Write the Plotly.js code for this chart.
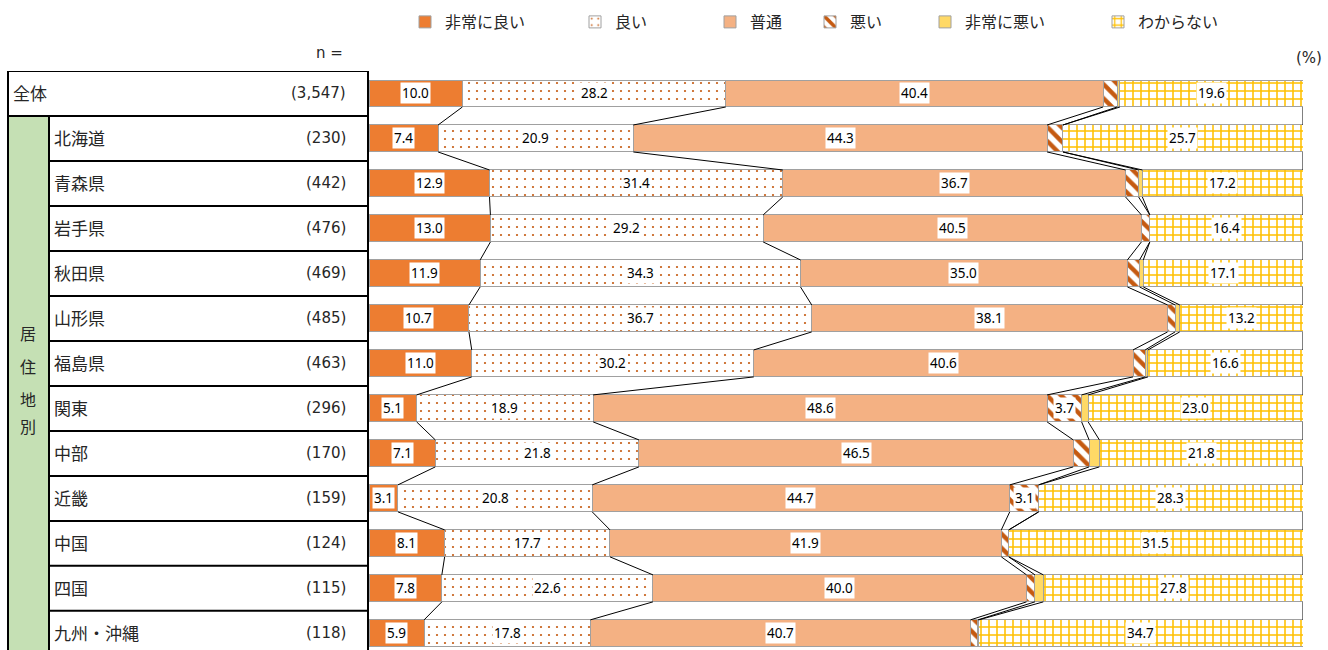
<!DOCTYPE html>
<html>
<head>
<meta charset="utf-8">
<script src="https://cdn.plot.ly/plotly-3.0.1.min.js"></script>
<style>
  html, body { margin: 0; padding: 0; background: #fff; }
  #chart { width: 1328px; height: 650px; }
</style>
</head>
<body>
<div id="chart"></div>
<script>
    // rows, top to bottom
    var rowNames = ['全体', '北海道', '青森県', '岩手県', '秋田県', '山形県', '福島県',
        '関東', '中部', '近畿', '中国', '四国', '九州・沖縄'];
    var rowCounts = ['(3,547)', '(230)', '(442)', '(476)', '(469)', '(485)', '(463)',
        '(296)', '(170)', '(159)', '(124)', '(115)', '(118)'];
    var groupLabel = ['居', '住', '地', '別'];

    var seriesNames = ['非常に良い', '良い', '普通', '悪い', '非常に悪い', 'わからない'];

    // % values per series
    var veryGood = [10.0, 7.4, 12.9, 13.0, 11.9, 10.7, 11.0, 5.1, 7.1, 3.1, 8.1, 7.8, 5.9];
    var good     = [28.2, 20.9, 31.4, 29.2, 34.3, 36.7, 30.2, 18.9, 21.8, 20.8, 17.7, 22.6, 17.8];
    var normal   = [40.4, 44.3, 36.7, 40.5, 35.0, 38.1, 40.6, 48.6, 46.5, 44.7, 41.9, 40.0, 40.7];
    var bad      = [1.5, 1.7, 1.4, 0.9, 1.3, 0.8, 1.3, 3.7, 1.7, 3.1, 0.8, 0.9, 0.8];
    var veryBad  = [0.3, 0.0, 0.4, 0.0, 0.4, 0.5, 0.3, 0.7, 1.1, 0.0, 0.0, 0.9, 0.1];
    var unknown  = [19.6, 25.7, 17.2, 16.4, 17.1, 13.2, 16.6, 23.0, 21.8, 28.3, 31.5, 27.8, 34.7];

    var series = [veryGood, good, normal, bad, veryBad, unknown];

    var styles = [
        {color: '#ED7D31'},
        {color: '#FFFFFF', pattern: {shape: '.', fgcolor: '#C55A11', bgcolor: '#FFFFFF', size: 8, solidity: 0.06}},
        {color: '#F4B183'},
        {color: '#FFFFFF', pattern: {shape: '\\', fgcolor: '#C55A11', bgcolor: '#FFFFFF', size: 10, solidity: 0.45}},
        {color: '#FFD966'},
        {color: '#FFFFFF', pattern: {shape: '+', fgcolor: '#FFC000', bgcolor: '#FFFFFF', size: 8, solidity: 0.35}}
    ];

    // legend swatch centres (px)
    var legendPx = [426, 596, 731, 831, 946, 1119];

    var PLOT_L = 369, PLOT_W = 934, PLOT_T = 71, PLOT_H = 579;
    var BAR_W = 0.6;
    var TXT = '#262626';

    function px2x(px) { return (px - PLOT_L) / PLOT_W; }
    function px2y(px) { return 1 - (px - PLOT_T) / PLOT_H; }

    var rowIdx = rowNames.map(function (d, i) { return i; });

    // cumulative starts
    var starts = series.map(function () { return []; });
    rowIdx.forEach(function (i) {
        var acc = 0;
        series.forEach(function (s, j) {
            starts[j][i] = acc;
            acc += s[i];
        });
    });

    var data = [];

    // series lines between neighbouring bars
    var lx = [], ly = [];
    for (var i = 0; i < rowIdx.length - 1; i++) {
        for (var j = 0; j < series.length; j++) {
            lx.push(starts[j][i] + series[j][i], starts[j][i + 1] + series[j][i + 1], null);
            ly.push(i + BAR_W / 2, i + 1 - BAR_W / 2, null);
        }
    }
    data.push({
        type: 'scatter', mode: 'lines', x: lx, y: ly,
        line: {color: '#000000', width: 1},
        hoverinfo: 'skip', showlegend: false
    });

    series.forEach(function (s, j) {
        var marker = {color: styles[j].color, line: {color: '#A0A0A0', width: 1}};
        if (styles[j].pattern) marker.pattern = styles[j].pattern;
        data.push({
            type: 'bar', orientation: 'h',
            name: seriesNames[j],
            x: s, y: rowIdx, width: BAR_W,
            marker: marker,
            legend: j === 0 ? 'legend' : 'legend' + (j + 1),
            hovertemplate: '%{x:.1f}<extra>' + seriesNames[j] + '</extra>'
        });
    });

    var annotations = [];

    // value labels
    series.forEach(function (s, j) {
        rowIdx.forEach(function (i) {
            if (s[i] < 3) return;
            annotations.push({
                xref: 'x', yref: 'y', x: starts[j][i] + s[i] / 2, y: i,
                xanchor: 'center', yanchor: 'middle',
                text: s[i].toFixed(1), showarrow: false,
                bgcolor: '#FFFFFF', borderpad: 1,
                font: {family: 'Noto Sans, sans-serif', size: 13.5, color: '#000'}
            });
        });
    });

    // table text
    rowIdx.forEach(function (i) {
        annotations.push({
            xref: 'paper', yref: 'y', x: px2x(i === 0 ? 11 : 52), y: i, yshift: 1,
            xanchor: 'left', yanchor: 'middle', text: rowNames[i], showarrow: false,
            font: {family: 'Noto Sans CJK JP', size: 17, color: TXT}
        });
        annotations.push({
            xref: 'paper', yref: 'y', x: px2x(348), y: i,
            xanchor: 'right', yanchor: 'middle', text: rowCounts[i], showarrow: false,
            font: {family: 'DejaVu Sans', size: 15, color: TXT}
        });
    });

    var groupPx = [333, 366, 399, 426];
    groupLabel.forEach(function (ch, k) {
        annotations.push({
            xref: 'paper', yref: 'paper', x: px2x(28), y: px2y(groupPx[k]),
            xanchor: 'center', yanchor: 'middle',
            text: ch, showarrow: false,
            font: {family: 'Noto Sans CJK JP', size: 16, color: TXT}
        });
    });

    annotations.push({
        xref: 'paper', yref: 'paper', x: px2x(329), y: px2y(53), xanchor: 'center', yanchor: 'middle',
        text: 'n =', showarrow: false,
        font: {family: 'DejaVu Sans', size: 15, color: TXT}
    });
    annotations.push({
        xref: 'paper', yref: 'paper', x: px2x(1309), y: px2y(58), xanchor: 'center', yanchor: 'middle',
        text: '(%)', showarrow: false,
        font: {family: 'DejaVu Sans', size: 15, color: TXT}
    });

    // table shapes
    var nRows = rowIdx.length;
    var shapes = [
        {type: 'rect', xref: 'paper', yref: 'y', x0: px2x(8), x1: px2x(49), y0: 0.5, y1: nRows + 1,
            fillcolor: '#C5E0B4', line: {width: 0}, layer: 'below'},
        {type: 'line', xref: 'paper', yref: 'y', x0: px2x(8), x1: px2x(8), y0: -0.5, y1: nRows + 1,
            line: {color: '#000', width: 2}},
        {type: 'line', xref: 'paper', yref: 'y', x0: px2x(49), x1: px2x(49), y0: 0.5, y1: nRows + 1,
            line: {color: '#000', width: 2}},
        {type: 'line', xref: 'paper', yref: 'y', x0: px2x(8), x1: 0, y0: -0.5, y1: -0.5,
            line: {color: '#000', width: 2}},
        {type: 'line', xref: 'paper', yref: 'y', x0: px2x(8), x1: 0, y0: 0.5, y1: 0.5,
            line: {color: '#000', width: 2}}
    ];
    for (var r = 1; r < nRows; r++) {
        shapes.push({type: 'line', xref: 'paper', yref: 'y', x0: px2x(49), x1: 0, y0: r + 0.5, y1: r + 0.5,
            line: {color: '#000', width: 2}});
    }

    var layout = {
        width: 1328, height: 650,
        margin: {l: PLOT_L, r: 1328 - PLOT_L - PLOT_W, t: PLOT_T, b: 650 - PLOT_T - PLOT_H},
        paper_bgcolor: '#FFFFFF', plot_bgcolor: '#FFFFFF',
        barmode: 'stack',
        xaxis: {range: [0, 100], showticklabels: false, showgrid: false, zeroline: false, fixedrange: true},
        yaxis: {range: [12.37, -0.5], showticklabels: false, showgrid: false, zeroline: false,
            showline: true, linecolor: '#000', linewidth: 2, fixedrange: true},
        annotations: annotations,
        shapes: shapes,
        hovermode: 'closest'
    };

    seriesNames.forEach(function (name, j) {
        layout[j === 0 ? 'legend' : 'legend' + (j + 1)] = {
            orientation: 'h', xref: 'paper', yref: 'paper',
            x: px2x(legendPx[j] - 21), y: px2y(22), xanchor: 'left', yanchor: 'middle',
            bgcolor: 'rgba(0,0,0,0)',
            font: {family: 'Noto Sans CJK JP', size: 16, color: TXT}
        };
    });

    Plotly.newPlot('chart', data, layout, {displayModeBar: false, staticPlot: true});
</script>
</body>
</html>
